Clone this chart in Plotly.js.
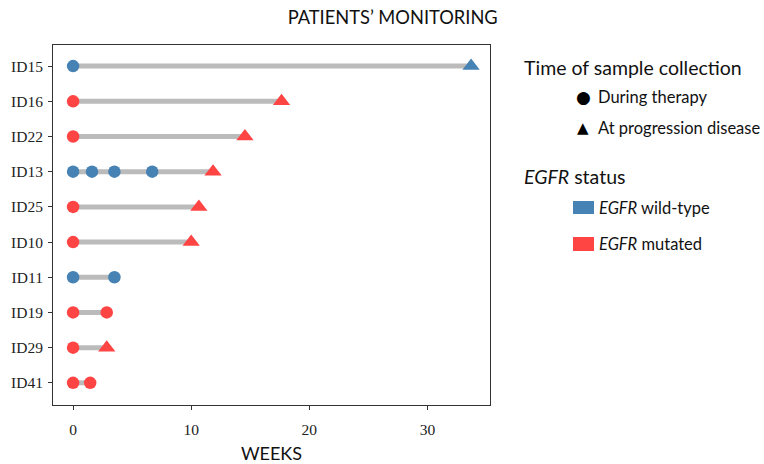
<!DOCTYPE html>
<html>
<head>
<meta charset="utf-8">
<script src="https://cdn.plot.ly/plotly-3.0.1.min.js"></script>
<style>html,body{margin:0;padding:0;background:#fff;}#chart{width:764px;height:464px;}</style>
</head>
<body>
<div id="chart"></div>
<script>
// ---- data ----
const patients = ['ID15','ID16','ID22','ID13','ID25','ID10','ID11','ID19','ID29','ID41'];
// EGFR status of samples during therapy / at progression, per patient
const therapyStatus = ['wild-type','mutated','mutated','wild-type','mutated','mutated','wild-type','mutated','mutated','mutated'];
const progressionStatus = ['wild-type','mutated','mutated','mutated','mutated','mutated',null,null,'mutated',null];
const therapyWeeks = [[0],[0],[0],[0,1.6,3.5,6.7],[0],[0],[0,3.5],[0,2.85],[0],[0,1.45]];
const progressionWeeks = [33.7,17.65,14.55,11.85,10.65,10.0,null,null,2.85,null];
const xTicks = [0,10,20,30];

const statusColors = {'wild-type':'#4682B4','mutated':'#FF4444'};

// ---- build traces ----
const lineX = [], lineY = [];
patients.forEach((p,i) => {
  const all = therapyWeeks[i].concat(progressionWeeks[i] === null ? [] : [progressionWeeks[i]]);
  lineX.push(Math.min(...all), Math.max(...all), null);
  lineY.push(p, p, null);
});
const traces = [{
  type:'scatter', mode:'lines', x:lineX, y:lineY, showlegend:false, hoverinfo:'skip',
  line:{color:'#BBBBBB', width:5}
}];
['wild-type','mutated'].forEach(st => {
  const cx=[], cy=[], tx=[], ty=[];
  patients.forEach((p,i) => {
    if (therapyStatus[i] === st) therapyWeeks[i].forEach(w => { cx.push(w); cy.push(p); });
    if (progressionStatus[i] === st && progressionWeeks[i] !== null) { tx.push(progressionWeeks[i]); ty.push(p); }
  });
  traces.push({type:'scatter', mode:'markers', x:cx, y:cy, showlegend:false,
    marker:{symbol:'circle', size:12.5, color:statusColors[st]}});
  traces.push({type:'scatter', mode:'markers', x:tx, y:ty, showlegend:false,
    marker:{symbol:'triangle-up', size:15, color:statusColors[st]}});
});

const sansFont = 'Lato, Noto Sans, sans-serif';
const serifFont = 'Liberation Serif, DejaVu Serif, Times New Roman, serif';
const layout = {
  width:764, height:464,
  margin:{l:53, r:274, t:45, b:59},
  paper_bgcolor:'#fff', plot_bgcolor:'#fff',
  showlegend:false,
  title:{text:'PATIENTS’ MONITORING', x:0.514, xanchor:'center', y:0.962, yanchor:'middle',
    font:{family:sansFont, size:18.3, color:'#111'}},
  xaxis:{range:[-1.7,35.3], tickvals:xTicks, ticks:'outside', ticklen:4, tickcolor:'#333',
    showline:true, mirror:true, linecolor:'#333', linewidth:1, showgrid:false, zeroline:false,
    tickfont:{family:serifFont, size:15.5, color:'#222'}, ticklabelstandoff:6,
    title:{text:'WEEKS', font:{family:sansFont, size:18, color:'#111'}, standoff:12}},
  yaxis:{type:'category', categoryorder:'array', categoryarray:patients, range:[9.63,-0.6],
    ticks:'outside', ticklen:4, tickcolor:'#333',
    showline:true, mirror:true, linecolor:'#333', linewidth:1, showgrid:false, zeroline:false,
    tickfont:{family:serifFont, size:15.5, color:'#222'}, ticklabelstandoff:2},
  annotations:[
    {xref:'paper', yref:'paper', x:(522-53)/437, y:(464-59-67)/360, xanchor:'left', yanchor:'middle', showarrow:false,
      text:'Time of sample collection', font:{family:sansFont, size:19.5, color:'#111'}},
    {xref:'paper', yref:'paper', x:(583-53)/437, y:(464-59-97)/360, xanchor:'center', yanchor:'middle', showarrow:false,
      text:'●', font:{family:'DejaVu Sans', size:17, color:'#000'}},
    {xref:'paper', yref:'paper', x:(596-53)/437, y:(464-59-97)/360, xanchor:'left', yanchor:'middle', showarrow:false,
      text:'During therapy', font:{family:sansFont, size:16.5, color:'#111'}},
    {xref:'paper', yref:'paper', x:(583-53)/437, y:(464-59-128)/360, xanchor:'center', yanchor:'middle', showarrow:false,
      text:'▲', font:{family:'DejaVu Sans', size:15, color:'#000'}},
    {xref:'paper', yref:'paper', x:(596-53)/437, y:(464-59-128)/360, xanchor:'left', yanchor:'middle', showarrow:false,
      text:'At progression disease', font:{family:sansFont, size:16.5, color:'#111'}},
    {xref:'paper', yref:'paper', x:(522-53)/437, y:(464-59-176)/360, xanchor:'left', yanchor:'middle', showarrow:false,
      text:'<i>EGFR</i> status', font:{family:sansFont, size:19.5, color:'#111'}},
    {xref:'paper', yref:'paper', x:(597-53)/437, y:(464-59-208)/360, xanchor:'left', yanchor:'middle', showarrow:false,
      text:'<i>EGFR</i> wild-type', font:{family:sansFont, size:16.5, color:'#111'}},
    {xref:'paper', yref:'paper', x:(597-53)/437, y:(464-59-244)/360, xanchor:'left', yanchor:'middle', showarrow:false,
      text:'<i>EGFR</i> mutated', font:{family:sansFont, size:16.5, color:'#111'}}
  ],
  shapes:[
    {type:'rect', xref:'paper', yref:'paper', x0:(573-53)/437, x1:(594-53)/437,
      y0:(464-59-214)/360, y1:(464-59-201)/360, fillcolor:statusColors['wild-type'], line:{width:0}},
    {type:'rect', xref:'paper', yref:'paper', x0:(573-53)/437, x1:(594-53)/437,
      y0:(464-59-251)/360, y1:(464-59-237)/360, fillcolor:statusColors['mutated'], line:{width:0}}
  ]
};

Plotly.newPlot('chart', traces, layout, {displayModeBar:false, staticPlot:true});
</script>
</body>
</html>
